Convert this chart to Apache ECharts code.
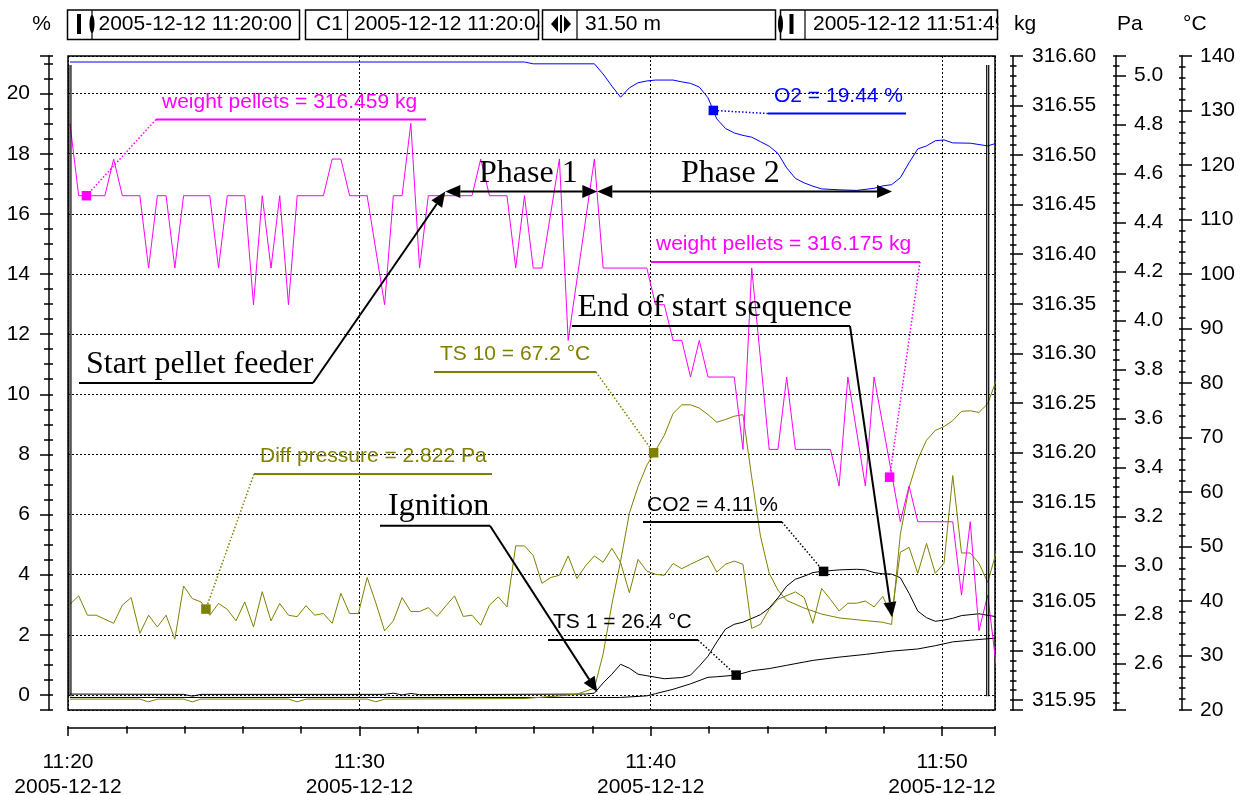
<!DOCTYPE html>
<html>
<head>
<meta charset="utf-8">
<title>Pellet burner start-up 2005-12-12</title>
<script src="https://cdn.jsdelivr.net/npm/echarts@6/dist/echarts.min.js"></script>
<style>
  html, body { margin: 0; padding: 0; background: #fff; }
  #chart { width: 1243px; height: 795px; }
</style>
</head>
<body>
<div id="chart"></div>
<script>
// Start-up log of the pellet burner, 2005-12-12.
// Time stamps are seconds after 11:20:00, one logged sample every 18 s.

const o2Percent = [
  [4,21.05],[940,21.05],[958,20.99],[1084,20.99],[1102,20.65],[1120,20.25],[1138,19.88],[1156,20.19],
  [1174,20.36],[1192,20.42],[1210,20.45],[1246,20.45],[1264,20.39],[1282,20.34],[1300,20.22],[1318,19.86],
  [1336,19.16],[1354,18.84],[1372,18.69],[1390,18.61],[1408,18.55],[1426,18.40],[1444,18.25],[1462,18.01],
  [1480,17.53],[1498,17.18],[1516,17.03],[1534,16.92],[1552,16.83],[1588,16.80],[1624,16.78],[1660,16.85],
  [1678,16.93],[1696,16.97],[1714,17.20],[1732,17.70],[1750,18.16],[1768,18.26],[1786,18.43],[1804,18.46],
  [1822,18.36],[1858,18.35],[1894,18.26],[1912,18.35]
];

const co2Percent = [
  [4,0.03],[238,0.02],[256,-0.04],[274,0.02],[652,0.02],[670,0.06],[688,0.0],[706,0.05],[724,0.01],
  [1066,0.03],[1084,0.06],[1102,0.40],[1120,0.69],[1138,1.02],[1156,0.89],[1174,0.69],[1192,0.64],
  [1228,0.54],[1264,0.58],[1282,0.66],[1300,0.96],[1318,1.29],[1336,1.76],[1354,2.19],[1372,2.35],
  [1390,2.42],[1426,2.67],[1444,2.89],[1462,3.23],[1480,3.62],[1498,3.85],[1516,3.95],[1534,4.07],
  [1552,4.11],[1588,4.16],[1624,4.18],[1642,4.16],[1660,4.07],[1678,4.03],[1696,4.02],[1714,3.90],
  [1732,3.38],[1750,2.79],[1768,2.57],[1786,2.45],[1804,2.49],[1822,2.55],[1840,2.64],[1876,2.70],[1912,2.60]
];

const weightPelletsKg = [
  [4,316.532],[22,316.459],[76,316.459],[94,316.496],[112,316.459],[148,316.459],[166,316.386],[184,316.459],
  [202,316.459],[220,316.386],[238,316.459],[292,316.459],[310,316.386],[328,316.459],[364,316.459],[382,316.349],
  [400,316.459],[418,316.386],[436,316.459],[454,316.349],[472,316.459],[526,316.459],[544,316.496],[562,316.496],
  [580,316.459],[616,316.459],[652,316.349],[670,316.459],[688,316.459],[706,316.532],[724,316.386],[742,316.459],
  [832,316.459],[850,316.496],[868,316.459],[904,316.459],[922,316.386],[940,316.459],[958,316.386],[976,316.386],
  [1012,316.496],[1030,316.313],[1084,316.496],[1102,316.386],[1192,316.386],[1210,316.349],[1228,316.349],
  [1246,316.313],[1264,316.313],[1282,316.276],[1300,316.313],[1318,316.276],[1372,316.276],[1390,316.203],
  [1408,316.386],[1444,316.203],[1462,316.203],[1480,316.276],[1498,316.203],[1570,316.203],[1588,316.166],
  [1606,316.276],[1642,316.166],[1660,316.276],[1714,316.130],[1732,316.166],[1750,316.130],[1822,316.130],
  [1840,316.056],[1858,316.130],[1876,316.020],[1894,316.056],[1912,315.983]
];

const diffPressurePa = [
  [4,2.842],[22,2.876],[40,2.797],[58,2.797],[94,2.764],[112,2.838],[130,2.869],[148,2.723],[166,2.797],
  [184,2.749],[202,2.797],[220,2.699],[238,2.916],[256,2.865],[274,2.851],[292,2.797],[310,2.845],[328,2.821],
  [346,2.774],[364,2.851],[382,2.749],[400,2.893],[418,2.774],[436,2.845],[454,2.797],[472,2.791],[490,2.836],
  [508,2.797],[526,2.804],[544,2.764],[562,2.886],[580,2.804],[598,2.804],[616,2.951],[634,2.847],[652,2.733],
  [670,2.774],[688,2.869],[706,2.812],[724,2.812],[742,2.828],[760,2.792],[778,2.835],[796,2.876],[814,2.792],
  [832,2.797],[850,2.756],[868,2.838],[886,2.872],[904,2.831],[922,3.080],[940,3.080],[958,3.041],[976,2.927],
  [994,2.951],[1012,2.960],[1030,3.039],[1048,2.947],[1066,2.999],[1084,3.039],[1102,3.013],[1120,3.070],
  [1138,3.012],[1156,2.889],[1174,3.025],[1192,2.977],[1210,2.964],[1228,2.960],[1246,3.008],[1264,2.987],
  [1282,3.005],[1318,3.039],[1336,2.973],[1354,3.005],[1372,3.018],[1390,3.005],[1408,2.743],[1426,2.760],
  [1444,2.821],[1462,2.862],[1498,2.892],[1516,2.869],[1534,2.764],[1552,2.906],[1570,2.862],[1588,2.814],
  [1606,2.846],[1624,2.846],[1642,2.855],[1660,2.831],[1678,2.874],[1696,2.793],[1714,3.054],[1732,3.074],
  [1750,2.968],[1768,3.090],[1786,2.968],[1804,3.009],[1822,3.367],[1840,3.051],[1858,3.051],[1876,3.009],
  [1894,2.931],[1912,3.058]
];

const ts10Celsius = [
  [4,22.0],[148,22.0],[166,21.5],[184,22.0],[238,22.0],[256,21.5],[274,22.0],[454,22.0],[472,21.5],[490,22.0],
  [616,22.0],[634,21.5],[652,22.0],[940,22.1],[1012,22.6],[1048,22.9],[1084,24.0],[1102,30.3],[1120,39.4],
  [1138,47.3],[1156,56.1],[1174,61.0],[1192,64.9],[1228,70.4],[1246,74.4],[1264,76.0],[1282,76.0],[1300,75.4],
  [1318,74.2],[1336,72.8],[1354,73.3],[1372,73.9],[1390,74.2],[1408,62.7],[1426,51.9],[1444,45.1],[1462,42.0],
  [1480,40.1],[1516,38.7],[1552,37.6],[1588,36.9],[1642,36.4],[1678,36.1],[1696,35.7],[1714,52.2],[1732,60.8],
  [1750,66.0],[1768,69.5],[1786,71.3],[1804,72.0],[1822,73.1],[1840,74.8],[1858,74.9],[1876,74.6],[1894,76.2],
  [1912,80.6]
];

const ts1Celsius = [
  [4,22.3],[1138,22.3],[1192,22.6],[1210,23.0],[1246,23.8],[1282,24.8],[1318,26.0],[1336,26.1],[1376,26.4],
  [1408,27.2],[1444,27.6],[1480,28.2],[1534,29.1],[1588,29.7],[1642,30.2],[1696,30.8],[1750,31.2],[1786,31.8],
  [1822,32.5],[1858,32.8],[1912,33.2]
];

// Cursor readouts: [time s, value]
const o2Readout = [1329, 19.44];
const co2Readout = [1556, 4.11];
const weightReadouts = [[38, 316.459], [1692, 316.175]];
const diffPressureReadout = [284, 2.822];
const ts10Readout = [1206, 67.2];
const ts1Readout = [1376, 26.4];

// Events of the start sequence, seconds after 11:20:00
const feederStartSec = 777;
const ignitionSec = 1090;
const sequenceEndSec = 1697;

// Measurement cursors C1 / C2
const cursorSec = [4, 1894];

// Axis ranges
const rangeSec = [0, 1909];
const rangePercent = [-0.5, 21.25];
const rangeKg = [315.94, 316.60];
const rangePa = [2.41, 5.08];
const rangeCelsius = [20, 140];

const BLACK = '#000000';
const BLUE = '#0000ff';
const MAGENTA = '#ff00ff';
const OLIVE = '#808000';
const SANS = '"Liberation Sans", Arial, Helvetica, sans-serif';
const SERIF = '"Liberation Serif", "Times New Roman", Times, serif';

const START_UTC = Date.UTC(2005, 11, 12, 11, 20, 0);
function pad(n) { return String(n).padStart(2, '0'); }
function stamp(sec) {
  const d = new Date(START_UTC + Math.round(sec) * 1000);
  const date = d.getUTCFullYear() + '-' + pad(d.getUTCMonth() + 1) + '-' + pad(d.getUTCDate());
  const hm = pad(d.getUTCHours()) + ':' + pad(d.getUTCMinutes());
  return { date: date, hm: hm, full: date + ' ' + hm + ':' + pad(d.getUTCSeconds()) };
}

// Each scale gets a labelled axis (outer ticks) plus an unlabelled twin
// carrying the inner halves of the ticks, so ticks cross the axis line.
function axisPair(o) {
  const common = {
    type: 'value', min: o.range[0], max: o.range[1], splitNumber: 10,
    minInterval: o.step, maxInterval: o.step,
    position: o.position, offset: o.offset, gridIndex: 0
  };
  const tickLine = { color: BLACK, width: 1.5 };
  const main = Object.assign({}, common, {
    axisLine: { show: true, onZero: false, lineStyle: { color: BLACK, width: 1.5 } },
    axisTick: { show: true, inside: false, length: o.majorLen, lineStyle: tickLine },
    minorTick: { show: true, splitNumber: o.minorSplit, length: o.minorLen, lineStyle: tickLine },
    axisLabel: {
      show: true, color: BLACK, fontFamily: SANS, fontSize: 21, margin: o.margin,
      lineHeight: o.lineHeight, formatter: o.format,
      showMinLabel: o.showMin, showMaxLabel: o.showMax
    },
    splitLine: { show: !!o.grid, lineStyle: { color: BLACK, width: 1, type: [2, 2] } },
    minorSplitLine: { show: false }
  });
  const twin = Object.assign({}, common, {
    axisLine: { show: false, onZero: false },
    axisLabel: { show: false },
    splitLine: { show: false },
    axisTick: { show: true, inside: true, length: o.innerLen, lineStyle: tickLine },
    minorTick: { show: true, splitNumber: o.minorSplit, length: o.innerLen, lineStyle: tickLine }
  });
  return [main, twin];
}

const xAxes = axisPair({
  range: rangeSec, step: 600, position: 'bottom', offset: 18,
  majorLen: 8, minorLen: 5.5, innerLen: 2, minorSplit: 5, margin: 21.5, lineHeight: 25,
  showMin: true, showMax: false, grid: true,
  format: function (v) { const s = stamp(v); return s.hm + '\n' + s.date; }
});
const pctAxes = axisPair({
  range: rangePercent, step: 2, position: 'left', offset: 19,
  majorLen: 9, minorLen: 5, innerLen: 4, minorSplit: 4, margin: 19,
  showMin: false, showMax: false, grid: true,
  format: function (v) { return String(v); }
});
const kgAxes = axisPair({
  range: rangeKg, step: 0.05, position: 'right', offset: 18,
  majorLen: 10, minorLen: 3.5, innerLen: 3, minorSplit: 5, margin: 19,
  showMin: false, showMax: true,
  format: function (v) { return v.toFixed(2); }
});
const paAxes = axisPair({
  range: rangePa, step: 0.2, position: 'right', offset: 121,
  majorLen: 10, minorLen: 3.5, innerLen: 3, minorSplit: 5, margin: 18,
  showMin: false, showMax: false,
  format: function (v) { return v.toFixed(1); }
});
const degAxes = axisPair({
  range: rangeCelsius, step: 10, position: 'right', offset: 187,
  majorLen: 10, minorLen: 3.5, innerLen: 3, minorSplit: 5, margin: 18,
  showMin: true, showMax: true,
  format: function (v) { return String(v); }
});

function lineSeries(name, data, yAxisIndex, color) {
  return {
    type: 'line', name: name, data: data, xAxisIndex: 0, yAxisIndex: yAxisIndex,
    symbol: 'none', showSymbol: false, silent: true, clip: true,
    lineStyle: { color: color, width: 1 }, itemStyle: { color: color },
    emphasis: { disabled: true }, z: 3
  };
}
function readoutSeries(data, yAxisIndex, color) {
  return {
    type: 'scatter', data: data, xAxisIndex: 0, yAxisIndex: yAxisIndex,
    symbol: 'rect', symbolSize: 9.5, silent: true,
    itemStyle: { color: color, opacity: 1 }, emphasis: { disabled: true }, z: 6
  };
}

const option = {
  animation: false,
  backgroundColor: '#ffffff',
  textStyle: { fontFamily: SANS },
  grid: {
    left: 68, right: 248, top: 56, bottom: 85, containLabel: false, outerBoundsMode: 'none',
    show: true, borderColor: BLACK, borderWidth: 1.5, backgroundColor: 'transparent'
  },
  xAxis: xAxes,
  yAxis: [].concat(pctAxes, kgAxes, paAxes, degAxes),
  series: [
    lineSeries('TS 1', ts1Celsius, 6, BLACK),
    lineSeries('CO2', co2Percent, 0, BLACK),
    lineSeries('TS 10', ts10Celsius, 6, OLIVE),
    lineSeries('Diff pressure', diffPressurePa, 4, OLIVE),
    lineSeries('weight pellets', weightPelletsKg, 2, MAGENTA),
    lineSeries('O2', o2Percent, 0, BLUE),
    readoutSeries([
      { value: o2Readout, itemStyle: { color: BLUE, opacity: 1 } },
      { value: co2Readout, itemStyle: { color: BLACK, opacity: 1 } }
    ], 0, BLACK),
    readoutSeries(weightReadouts, 2, MAGENTA),
    readoutSeries([diffPressureReadout], 4, OLIVE),
    readoutSeries([ts10Readout], 6, OLIVE),
    readoutSeries([ts1Readout], 6, BLACK)
  ]
};

const chart = echarts.init(document.getElementById('chart'), null, { renderer: 'canvas' });
chart.setOption(option);

function toPx(yAxisIndex, point) {
  return chart.convertToPixel({ xAxisIndex: 0, yAxisIndex: yAxisIndex }, point);
}

const g = [];
function text(x, y, str, font, color, z, align) {
  g.push({
    type: 'text', x: x, y: y, z: z || 12, silent: true,
    style: {
      text: str, font: font, fill: color, align: align || 'left', verticalAlign: 'middle',
      textAlign: align || 'left', textVerticalAlign: 'middle'
    }
  });
}
function seg(x1, y1, x2, y2, color, width, dash, z) {
  g.push({
    type: 'line', z: z || 11, silent: true,
    shape: { x1: x1, y1: y1, x2: x2, y2: y2 },
    style: { stroke: color, lineWidth: width, lineDash: dash || null }
  });
}
function arrowHead(tipX, tipY, fromX, fromY) {
  const len = 15, half = 6.5;
  const a = Math.atan2(tipY - fromY, tipX - fromX);
  const bx = tipX - len * Math.cos(a), by = tipY - len * Math.sin(a);
  const nx = -Math.sin(a) * half, ny = Math.cos(a) * half;
  g.push({
    type: 'polygon', z: 12, silent: true,
    shape: { points: [[tipX, tipY], [bx + nx, by + ny], [bx - nx, by - ny]] },
    style: { fill: BLACK }
  });
  return [bx, by];
}

// Cursor readout labels with their underline and dotted leader
const readoutLabels = [
  { axis: 2, point: weightReadouts[0], color: MAGENTA, text: 'weight pellets = ' + weightReadouts[0][1].toFixed(3) + ' kg',
    textX: 162, textY: 102, x1: 156, x2: 426, y: 119.5, leaderFrom: 'left' },
  { axis: 0, point: o2Readout, color: BLUE, text: 'O2 = ' + o2Readout[1].toFixed(2) + ' %',
    textX: 774, textY: 96, x1: 768, x2: 906, y: 113.5, leaderFrom: 'left' },
  { axis: 2, point: weightReadouts[1], color: MAGENTA, text: 'weight pellets = ' + weightReadouts[1][1].toFixed(3) + ' kg',
    textX: 656, textY: 244, x1: 651, x2: 920, y: 262, leaderFrom: 'right' },
  { axis: 6, point: ts10Readout, color: OLIVE, text: 'TS 10 = ' + ts10Readout[1].toFixed(1) + ' °C',
    textX: 440, textY: 354, x1: 434, x2: 596, y: 372, leaderFrom: 'right' },
  { axis: 4, point: diffPressureReadout, color: OLIVE, text: 'Diff pressure = ' + diffPressureReadout[1].toFixed(3) + ' Pa',
    textX: 260, textY: 456, x1: 254, x2: 492, y: 474, leaderFrom: 'left' },
  { axis: 0, point: co2Readout, color: BLACK, text: 'CO2 = ' + co2Readout[1].toFixed(2) + ' %',
    textX: 647, textY: 505, x1: 643, x2: 782, y: 522, leaderFrom: 'right' },
  { axis: 6, point: ts1Readout, color: BLACK, text: 'TS 1 = ' + ts1Readout[1].toFixed(1) + ' °C',
    textX: 553, textY: 622.5, x1: 548, x2: 698, y: 640, leaderFrom: 'right' }
];
readoutLabels.forEach(function (r) {
  const m = toPx(r.axis, r.point);
  const ex = r.leaderFrom === 'left' ? r.x1 : r.x2;
  seg(ex, r.y, m[0], m[1], r.color, 1.5, [1.5, 2]);
  seg(r.x1, r.y, r.x2, r.y, r.color, 2);
  text(r.textX, r.textY, r.text, '21px ' + SANS, r.color);
});

// Start-sequence events: serif caption, underline and arrow to the event
const phaseLevelPct = 16.74;
const eventLabels = [
  { text: 'Start pellet feeder', textX: 86, textY: 365, x1: 79, x2: 313, y: 383, tip: [feederStartSec, phaseLevelPct] },
  { text: 'Ignition', textX: 388, textY: 506.5, x1: 380, x2: 490, y: 525.7, tip: [ignitionSec, 0.1] },
  { text: 'End of start sequence', textX: 577.5, textY: 307.5, x1: 572, x2: 850, y: 326, tip: [sequenceEndSec, 2.59] }
];
eventLabels.forEach(function (e) {
  const t = toPx(0, e.tip);
  text(e.textX, e.textY, e.text, '32px ' + SERIF, BLACK);
  seg(e.x1, e.y, e.x2, e.y, BLACK, 2);
  const base = arrowHead(t[0], t[1], e.x2, e.y);
  seg(e.x2, e.y, base[0], base[1], BLACK, 2);
});

// Phase spans
const phases = [
  { text: 'Phase 1', from: feederStartSec, to: ignitionSec, textX: 479 },
  { text: 'Phase 2', from: ignitionSec, to: sequenceEndSec, textX: 681 }
];
phases.forEach(function (p) {
  const a = toPx(0, [p.from, phaseLevelPct]);
  const b = toPx(0, [p.to, phaseLevelPct]);
  const ba = arrowHead(a[0], a[1], b[0], b[1]);
  const bb = arrowHead(b[0], b[1], a[0], a[1]);
  seg(ba[0], ba[1], bb[0], bb[1], BLACK, 2);
  text(p.textX, 173.5, p.text, '32px ' + SERIF, BLACK);
});

// Measurement cursors (double lines)
cursorSec.forEach(function (s) {
  const top = toPx(0, [s, 20.95]);
  const bot = toPx(0, [s, -0.04]);
  seg(top[0] - 1, top[1], bot[0] - 1, bot[1], BLACK, 1.2, null, 9);
  seg(top[0] + 1, top[1], bot[0] + 1, bot[1], BLACK, 1.2, null, 9);
});

// Unit captions above the value axes
text(41.5, 24, '%', '21px ' + SANS, BLACK, 12, 'center');
text(1014, 24, 'kg', '21px ' + SANS, BLACK);
text(1117, 24, 'Pa', '21px ' + SANS, BLACK);
text(1183, 24, '°C', '21px ' + SANS, BLACK);

// Cursor toolbar
const boxTop = 10, boxH = 29.5, boxMid = 24.5;
const boxes = [
  { x: 67.5, w: 232, sep: 92, textX: 98.5, text: stamp(rangeSec[0]).full },
  { x: 305.5, w: 233, sep: 347.5, textX: 354, text: stamp(cursorSec[0]).full },
  { x: 542.5, w: 233, sep: 577, textX: 585, text: ((cursorSec[1] - cursorSec[0]) / 60).toFixed(2) + ' m' },
  { x: 780.5, w: 217, sep: 805, textX: 813, text: stamp(rangeSec[1]).full }
];
boxes.forEach(function (b) {
  g.push({ type: 'rect', z: 20, silent: true, shape: { x: b.x, y: boxTop, width: b.w, height: boxH }, style: { fill: '#fff' } });
  text(b.textX, boxMid, b.text, '21px ' + SANS, BLACK, 21);
  g.push({ type: 'line', z: 23, silent: true, shape: { x1: b.sep, y1: boxTop, x2: b.sep, y2: boxTop + boxH }, style: { stroke: BLACK, lineWidth: 1.2 } });
});
text(316, boxMid, 'C1', '21px ' + SANS, BLACK, 21);
// clip text that runs past its box
g.push({ type: 'rect', z: 22, silent: true, shape: { x: 539.3, y: boxTop - 1, width: 10.5, height: boxH + 2 }, style: { fill: '#fff' } });
g.push({ type: 'rect', z: 22, silent: true, shape: { x: 998.3, y: boxTop - 1, width: 12, height: boxH + 2 }, style: { fill: '#fff' } });
boxes.forEach(function (b) {
  g.push({ type: 'rect', z: 23, silent: true, shape: { x: b.x, y: boxTop, width: b.w, height: boxH }, style: { fill: null, stroke: BLACK, lineWidth: 1.5 } });
});
// toolbar glyphs
g.push({ type: 'rect', z: 24, silent: true, shape: { x: 77, y: 14, width: 4, height: 20 }, style: { fill: BLACK } });
g.push({ type: 'ellipse', z: 24, silent: true, shape: { cx: 92, cy: 24, rx: 2.5, ry: 9 }, style: { fill: BLACK } });
g.push({ type: 'polygon', z: 24, silent: true, shape: { points: [[551, 24], [558, 16], [558, 32]] }, style: { fill: BLACK } });
g.push({ type: 'polygon', z: 24, silent: true, shape: { points: [[571, 24], [564, 16], [564, 32]] }, style: { fill: BLACK } });
g.push({ type: 'rect', z: 24, silent: true, shape: { x: 560, y: 15, width: 2, height: 18 }, style: { fill: BLACK } });
g.push({ type: 'ellipse', z: 24, silent: true, shape: { cx: 780.5, cy: 24, rx: 2.5, ry: 9 }, style: { fill: BLACK } });
g.push({ type: 'rect', z: 24, silent: true, shape: { x: 789.5, y: 14, width: 4, height: 20 }, style: { fill: BLACK } });

chart.setOption({ graphic: { elements: g } });
</script>
</body>
</html>
